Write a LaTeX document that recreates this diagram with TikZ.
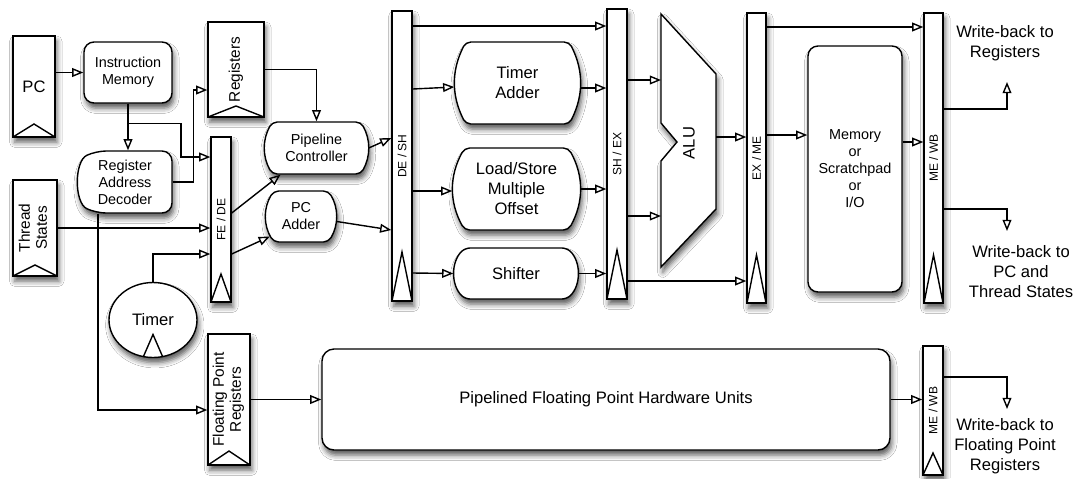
\documentclass[tikz,border=0pt]{standalone}
\usepackage{fontspec}
\setmainfont{Liberation Sans}
\usepackage{graphicx}
\usetikzlibrary{arrows.meta,positioning,shapes.geometric,shadows.blur}

\begin{document}
\begin{tikzpicture}[
  x=0.5pt,y=-0.5pt,
  line width=0.7pt,
  >={Triangle[open,length=5.6pt,width=4.4pt]},
  shdw/.style={blur shadow={shadow xshift=0.9pt,shadow yshift=-2.6pt,shadow blur radius=2.6pt,shadow opacity=65}},
  lbl/.style={font=\fontsize{7.2}{8.5}\selectfont},
  lblbig/.style={font=\fontsize{8.3}{10}\selectfont},
  lblreg/.style={font=\fontsize{7.7}{8.5}\selectfont},
  lbltiny/.style={font=\fontsize{6}{7}\selectfont},
  latch/.style={draw,fill=white,inner sep=0pt,shdw,lbltiny,minimum width=10pt,
    path picture={\draw (path picture bounding box.south west) -- ([yshift=#1]path picture bounding box.south) -- (path picture bounding box.south east);}},
  regfile/.style={latch=#1,lblreg},
  unit/.style={draw,fill=white,shdw,rounded corners=5pt,align=center,inner sep=0pt,lbl},
  bulge/.style={align=center,inner sep=0pt},
  wire/.style={->},
  wb/.style={align=center,lblbig,inner sep=0pt},
]
\path[use as bounding box,fill=white] (0,0) rectangle (1076,478);

% bulged outlines first, labels are placed on top of them below
\foreach \cx/\cy/\w/\h/\s/\b in {316.5/148/51.5/26/7.2/29, 301/216.5/35/25.5/7.6/31, 517.5/83/62.5/41/10.8/27,
    516.5/189/63.5/41/11.6/29, 516/273.5/62/25.5/11/45}
  \draw[fill=white,shdw,rounded corners=2.5pt] (\cx-\w+\s,\cy-\h) to[bend right=\b] (\cx-\w+\s,\cy+\h)
    -- (\cx+\w-\s,\cy+\h) to[bend right=\b] (\cx+\w-\s,\cy-\h) -- cycle;
\draw[fill=white,shdw,rounded corners=5pt] (96,151) to[bend right=65] (96,213) -- (172,213) -- (172,151) -- cycle;

% ---- fetch side: PC, memory, decoder, state ----
\node[regfile=6.5pt,lblbig,minimum width=21pt,minimum height=50.5pt] (pc) at (34,86.5) {PC};
\node[unit,minimum width=44pt,minimum height=30.5pt] (im) at (128,72.5) {Instruction\\Memory};
\node[bulge,lbl,minimum width=47pt,minimum height=31pt] (rad) at (125,182) {Register\\Address\\Decoder};
\node[regfile=5.5pt,minimum width=28pt,minimum height=47.5pt] (reg) at (236,69.5) {\rotatebox{90}{Registers}};
\node[regfile=5.5pt,minimum width=22pt,minimum height=48pt] (ts) at (35,228) {\rotatebox{90}{\begin{tabular}{@{}c@{}}Thread\\States\end{tabular}}};
\node[regfile=7pt,minimum width=21pt,minimum height=65.5pt] (fpr) at (229,399.5) {\rotatebox{90}{\begin{tabular}{@{}c@{}}Floating Point\\Registers\end{tabular}}};
\node[ellipse,draw,fill=white,shdw,lblbig,minimum width=44pt,minimum height=37.5pt,inner sep=0pt,
  path picture={\draw ([xshift=-5pt]path picture bounding box.south) -- ([yshift=11.5pt]path picture bounding box.south) -- ([xshift=5pt]path picture bounding box.south);}] (tmr) at (153,320) {Timer};

% ---- pipeline latches ----
\node[latch=14pt,minimum height=82.5pt] (fede) at (221,219.5) {\rotatebox{90}{FE / DE}};
\node[latch=24.5pt,minimum height=145pt] (desh) at (402,156) {\rotatebox{90}{DE / SH}};
\node[latch=24.5pt,minimum height=145pt] (shex) at (617,154) {\rotatebox{90}{SH / EX}};
\node[latch=24pt,minimum height=145pt,minimum width=9.5pt] (exme) at (756.5,158) {\rotatebox{90}{EX / ME}};
\node[latch=24pt,minimum height=145pt,minimum width=9.5pt] (mewb) at (933.5,158) {\rotatebox{90}{ME / WB}};
\node[latch=11pt,minimum height=64.5pt] (mewbf) at (933,410.5) {\rotatebox{90}{ME / WB}};

% ---- functional units ----
\node[bulge,lbl,minimum width=51.5pt,minimum height=26pt] (pctl) at (316.5,148) {Pipeline\\Controller};
\node[bulge,lbl,minimum width=35pt,minimum height=25.5pt] (pcadd) at (301,216.5) {PC\\Adder};
\node[bulge,lblbig,minimum width=62.5pt,minimum height=41pt] (tadd) at (517.5,83) {Timer\\Adder};
\node[bulge,lblbig,minimum width=63.5pt,minimum height=41pt] (lsm) at (516.5,189) {Load/Store\\Multiple\\Offset};
\node[bulge,lblbig,minimum width=62pt,minimum height=25.5pt] (shft) at (516,273.5) {Shifter};
\node[unit,minimum width=47pt,minimum height=123pt] (mem) at (855,169) {Memory\\or\\Scratchpad\\or\\I/O};
\node[unit,lblbig,rounded corners=6pt,minimum width=284pt,minimum height=50.5pt] (fpu) at (606,399.5) {Pipelined Floating Point Hardware Units};

% ALU outline with its notch
\coordinate (alu-a) at (661,80);
\coordinate (alu-b) at (661,216);
\coordinate (alu-c) at (716,137);
\draw[fill=white,shdw] (661,14) -- (716,74) -- (716,209) -- (661,267) -- (661,161) -- (677,142) -- (661,123) -- cycle;
\node[lblbig,rotate=90] (alu) at (689,143) {ALU};

% ---- write-back targets ----
\node[wb] (wbr) at (1005,43) {Write-back to\\Registers};
\node[wb] (wbp) at (1021,272) {Write-back to\\PC and\\Thread States};
\node[wb] (wbf) at (1005,446) {Write-back to\\Floating Point\\Registers};
\coordinate (wbr-in) at (1007,82);
\coordinate (wbp-in) at (1007,231);
\coordinate (wbf-in) at (1007,409);

% ---- fetch / decode wiring ----
\draw[wire] (im.west -| pc.east) -- (im.west);
\draw[wire] (im.south) -- (im.south |- rad.north);
\draw[wire] ([yshift=-10pt]im.south) -- ++(53,0) |- ([yshift=31.25pt]fede.west);
\draw[wire] (rad.east) -- ++(21,0) |- ([yshift=-10.25pt]reg.west);
\draw[wire] (reg.east) -| (pctl.north);
\draw[wire] ([xshift=-13.5pt]rad.south) |- ([yshift=-5.25pt]fpr.west);
\draw[wire] (ts.east) -- (ts.east -| fede.west);
\draw[wire] (tmr.north) |- ([yshift=-17.25pt]fede.west);
\draw[wire] ([yshift=3.25pt]fede.east) -- ([xshift=-18pt]pctl.south);
\draw[wire] ([yshift=-17.25pt]fede.east) -- ([xshift=2.3pt,yshift=-10pt]pcadd.west);
\draw[wire] (pctl.east) -- ([yshift=9pt]desh.west);
\draw[wire] ([yshift=-2.5pt]pcadd.east) -- ([yshift=-37pt]desh.west);

% ---- shift / execute wiring ----
\draw[wire] ([yshift=65pt]desh.east) -- ([yshift=64pt]shex.west);
\draw[wire] ([yshift=33.5pt]desh.east) -- ([yshift=-2pt]tadd.west);
\draw[wire] ([yshift=-17.5pt]desh.east) -- ([yshift=-1pt]lsm.west);
\draw[wire] ([yshift=-58.5pt]desh.east) -- (shft.west);
\draw[wire] ([yshift=-2.5pt]tadd.east) -- ([yshift=33pt]shex.west);
\draw[wire] (lsm.east) -- (lsm.east -| shex.west);
\draw[wire] (shft.east) -- (shft.east -| shex.west);
\draw[wire] (alu-a -| shex.east) -- (alu-a);
\draw[wire] (alu-b -| shex.east) -- (alu-b);
\draw[wire] ([yshift=-63.5pt]shex.east) -- ([yshift=-61.5pt]exme.west);
\draw[wire] (alu-c) -- (alu-c -| exme.west);

% ---- memory / write-back wiring ----
\draw[wire] ([yshift=65.5pt]exme.east) -- ([yshift=65.5pt]mewb.west);
\draw[wire] ([yshift=11.5pt]exme.east) -- ([yshift=17pt]mem.west);
\draw[wire] ([yshift=13.5pt]mem.east) -- ([yshift=8pt]mewb.west);
\draw[wire] ([yshift=24.5pt]mewb.east) -| (wbr-in);
\draw[wire] ([yshift=-25.5pt]mewb.east) -| (wbp-in);
\draw[wire] (fpr.east) -- (fpr.east -| fpu.west);
\draw[wire] (fpu.east) -- (fpu.east -| mewbf.west);
\draw[wire] ([yshift=16.75pt]mewbf.east) -| (wbf-in);
\end{tikzpicture}
\end{document}
